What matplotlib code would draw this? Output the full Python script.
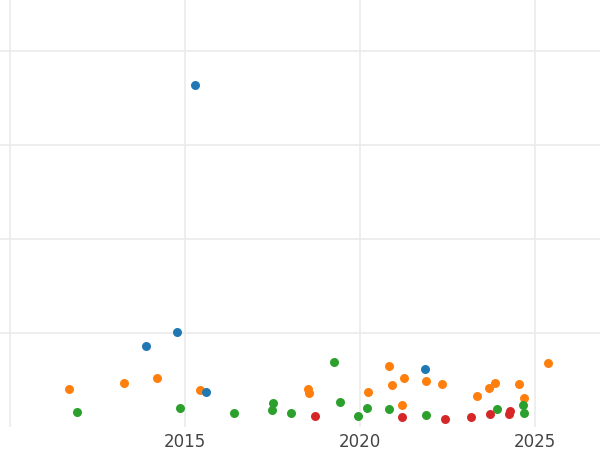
import matplotlib
matplotlib.use('Agg')
import matplotlib.pyplot as plt

# Valeurs (année, valeur)
blue_x = [2015.29, 2013.89, 2014.77, 2015.60, 2021.86]
blue_y = [181.9, 43.1, 50.5, 18.6, 30.9]

orange_x = [2011.69, 2013.26, 2014.20, 2015.43, 2018.52, 2018.55, 2020.22, 2020.83,
            2020.92, 2021.27, 2021.19, 2021.88, 2022.35, 2023.34, 2023.69, 2023.86,
            2024.54, 2024.69, 2025.37]
orange_y = [20.2, 23.4, 26.1, 19.7, 20.0, 18.2, 18.4, 32.6,
            22.3, 25.9, 11.7, 24.6, 22.7, 16.3, 20.9, 23.4,
            22.7, 15.3, 34.0]

green_x = [2011.90, 2014.85, 2016.41, 2017.51, 2017.49, 2018.03, 2019.26, 2019.42,
           2019.94, 2020.20, 2020.84, 2021.88, 2023.92, 2024.66, 2024.69]
green_y = [8.0, 9.9, 7.6, 12.9, 8.9, 7.3, 34.6, 13.5,
           5.7, 9.9, 9.4, 6.6, 9.4, 11.5, 7.6]

red_x = [2018.70, 2021.20, 2022.43, 2023.17, 2023.71, 2024.26, 2024.28]
red_y = [5.9, 5.3, 4.1, 5.3, 6.8, 6.8, 8.4]

xticks = [2010, 2015, 2020, 2025]
xtick_labels = ['', '2015', '2020', '2025']
yticks = [50, 100, 150, 200]

fig = plt.figure(figsize=(6, 4.5), dpi=100)
ax = fig.add_axes([0, 23 / 450, 1, 427 / 450])

ax.scatter(orange_x, orange_y, s=42, color='#ff7f0e', zorder=3, linewidths=0)
ax.scatter(blue_x, blue_y, s=42, color='#1f77b4', zorder=3, linewidths=0)
ax.scatter(green_x, green_y, s=42, color='#2ca02c', zorder=3, linewidths=0)
ax.scatter(red_x, red_y, s=42, color='#d62728', zorder=3, linewidths=0)

ax.set_xlim(2010 - 10 / 35, 2010 + 590 / 35)
ax.set_ylim(0, 427 / 1.88)
ax.set_xticks(xticks)
ax.set_xticklabels(xtick_labels, fontsize=12, color='#444444')
ax.set_yticks(yticks)
ax.set_yticklabels([])
ax.tick_params(length=0, pad=4)
ax.grid(True, color='#ebebeb', linewidth=1.2)
ax.set_axisbelow(True)
for s in ax.spines.values():
    s.set_visible(False)

plt.savefig('out.png', dpi=100)
